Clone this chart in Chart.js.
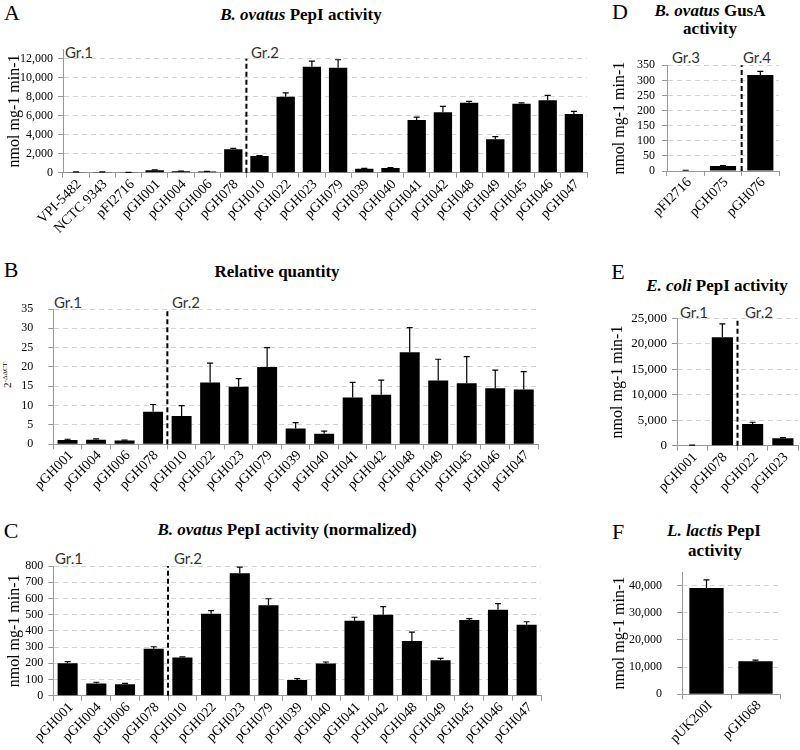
<!DOCTYPE html>
<html>
<head>
<meta charset="utf-8">
<script src="https://cdn.jsdelivr.net/npm/chart.js@4.4.0/dist/chart.umd.min.js"></script>
<style>
body { margin: 0; width: 800px; height: 750px; position: relative; overflow: hidden; background: #fff; font-family: 'Liberation Serif', 'Times New Roman', serif; }
canvas { position: absolute; }
.t { position: absolute; white-space: nowrap; color: #000; transform: translate(-50%, -50%); }
.letter { font-size: 22px; }
.title { font-size: 17px; font-weight: bold; }
.gr { position: absolute; white-space: nowrap; transform: translateY(-50%); font-family: Lato, 'Open Sans', sans-serif; font-size: 15px; color: #333; }
.ylab { position: absolute; white-space: nowrap; transform: translate(-50%, -50%) rotate(-90deg); font-size: 11px; }
.ylab sup { font-size: 7px; }
.xl { position: absolute; width: 0; height: 0; transform: rotate(-45deg); transform-origin: 0 0; }
.xl span { position: absolute; right: 0; top: 0; transform: translateY(-50%); white-space: nowrap; font-size: 14px; line-height: 1; color: #000; }
</style>
</head>
<body>
<!-- panel letters and titles -->
<div class="t letter" style="left:12px;top:13px">A</div>
<div class="t title" style="left:301px;top:15px"><i>B. ovatus</i> PepI activity</div>
<div class="t letter" style="left:11px;top:270px">B</div>
<div class="t title" style="left:277px;top:272px">Relative quantity</div>
<div class="t letter" style="left:11px;top:531px">C</div>
<div class="t title" style="left:287px;top:530px"><i>B. ovatus</i> PepI activity (normalized)</div>
<div class="t letter" style="left:620px;top:12px">D</div>
<div class="t title" style="left:710px;top:11px"><i>B. ovatus</i> GusA</div>
<div class="t title" style="left:710px;top:29px">activity</div>
<div class="t letter" style="left:618px;top:272px">E</div>
<div class="t title" style="left:717px;top:286px"><i>E. coli</i> PepI activity</div>
<div class="t letter" style="left:618px;top:532px">F</div>
<div class="t title" style="left:714px;top:531px"><i>L. lactis</i> PepI</div>
<div class="t title" style="left:715px;top:551px">activity</div>

<!-- group labels -->
<div class="gr" style="left:65px;top:52px">Gr.1</div>
<div class="gr" style="left:251px;top:52px">Gr.2</div>
<div class="gr" style="left:54px;top:302px">Gr.1</div>
<div class="gr" style="left:172px;top:302px">Gr.2</div>
<div class="gr" style="left:55px;top:558px">Gr.1</div>
<div class="gr" style="left:174px;top:558px">Gr.2</div>
<div class="gr" style="left:672px;top:57px">Gr.3</div>
<div class="gr" style="left:743px;top:57px">Gr.4</div>
<div class="gr" style="left:680px;top:312px">Gr.1</div>
<div class="gr" style="left:745px;top:312px">Gr.2</div>

<div class="ylab" style="left:7px;top:375px">2<sup>-ΔΔCT</sup></div>

<canvas id="chartA"></canvas>
<canvas id="chartB"></canvas>
<canvas id="chartC"></canvas>
<canvas id="chartD"></canvas>
<canvas id="chartE"></canvas>
<canvas id="chartF"></canvas>

<script>
// ---- data ----
const aLabels = ['VPI-5482', 'NCTC 9343', 'pFI2716', 'pGH001', 'pGH004', 'pGH006', 'pGH078', 'pGH010', 'pGH022', 'pGH023',
                 'pGH079', 'pGH039', 'pGH040', 'pGH041', 'pGH042', 'pGH048', 'pGH049', 'pGH045', 'pGH046', 'pGH047'];
const aValues = [80, 70, 20, 250, 150, 120, 2460, 1760, 8000, 11160, 11050, 420, 500, 5550, 6360, 7370, 3520, 7260, 7620, 6180];
const aErrors = [15, 10, 5, 40, 20, 20, 100, 50, 400, 590, 840, 40, 50, 300, 630, 140, 280, 100, 520, 280];

const bcLabels = ['pGH001', 'pGH004', 'pGH006', 'pGH078', 'pGH010', 'pGH022', 'pGH023', 'pGH079', 'pGH039', 'pGH040',
                  'pGH041', 'pGH042', 'pGH048', 'pGH049', 'pGH045', 'pGH046', 'pGH047'];
const bValues = [1.1, 1.2, 1.0, 8.4, 7.3, 16, 14.9, 20, 4.1, 2.7, 12.1, 12.8, 23.8, 16.5, 15.8, 14.5, 14.2];
const bErrors = [0.2, 0.2, 0.1, 1.9, 2.7, 5, 2.1, 5, 1.5, 0.7, 3.9, 3.8, 6.4, 5.5, 6.9, 4.7, 4.6];

const cValues = [200, 75, 70, 290, 235, 505, 755, 558, 97, 198, 462, 500, 337, 218, 467, 530, 438];
const cErrors = [10, 8, 6, 12, 4, 20, 38, 40, 8, 10, 22, 50, 55, 12, 8, 38, 18];

const dLabels = ['pFI2716', 'pGH075', 'pGH076'];
const dValues = [2, 16.5, 318];
const dErrors = [0.5, 1, 12];

const eLabels = ['pGH001', 'pGH078', 'pGH022', 'pGH023'];
const eValues = [100, 21300, 4250, 1450];
const eErrors = [20, 2600, 350, 120];

const fLabels = ['pUK200I', 'pGH068'];
const fValues = [39100, 12200];
const fErrors = [3000, 400];

// y tick values and axis maxima
const aTicks = [0, 2000, 4000, 6000, 8000, 10000, 12000], aMax = 13000;
const bTicks = [0, 5, 10, 15, 20, 25, 30, 35], bMax = 35;
const cTicks = [0, 100, 200, 300, 400, 500, 600, 700, 800], cMax = 800;
const dTicks = [0, 50, 100, 150, 200, 250, 300, 350], dMax = 350;
const eTicks = [0, 5000, 10000, 15000, 20000, 25000], eMax = 25000;
const fTicks = [0, 10000, 20000, 30000, 40000], fMax = 45000;

const unitTitle = 'nmol mg-1 min-1';
const serif = "'Liberation Serif', 'Times New Roman', serif";

Chart.defaults.font.family = serif;
Chart.defaults.color = '#000';

// upward error whiskers with a cap
const errorBars = {
    id: 'errorBars',
    afterDatasetsDraw(chart) {
        const {ctx, scales: {y}} = chart;
        const ds = chart.data.datasets[0];
        const meta = chart.getDatasetMeta(0);
        ctx.save();
        ctx.strokeStyle = '#000';
        ctx.lineWidth = 1.2;
        meta.data.forEach((bar, i) => {
            const top = y.getPixelForValue(ds.data[i] + ds.errors[i]);
            ctx.beginPath();
            ctx.moveTo(bar.x, bar.y);
            ctx.lineTo(bar.x, top);
            ctx.moveTo(bar.x - 3, top);
            ctx.lineTo(bar.x + 3, top);
            ctx.stroke();
        });
        ctx.restore();
    }
};

// dashed line separating groups
const groupDivider = {
    id: 'groupDivider',
    afterDatasetsDraw(chart, args, opts) {
        if (opts.after == null) return;
        const {ctx, scales: {x, y}} = chart;
        const px = (x.getPixelForTick(opts.after) + x.getPixelForTick(opts.after + 1)) / 2;
        ctx.save();
        ctx.setLineDash([5, 3]);
        ctx.lineWidth = 2;
        ctx.strokeStyle = '#000';
        ctx.beginPath();
        ctx.moveTo(px, y.getPixelForValue(0));
        ctx.lineTo(px, y.getPixelForValue(opts.top));
        ctx.stroke();
        ctx.restore();
    }
};

// category labels as slanted text, each ending under its tick
function addSlantLabels(chart, box) {
    const x = chart.scales.x;
    chart.data.labels.forEach((lab, i) => {
        const wrap = document.createElement('div');
        wrap.className = 'xl';
        wrap.style.left = (box.x + x.getPixelForTick(i) + 3) + 'px';
        wrap.style.top = (box.y + x.top + 9) + 'px';
        const span = document.createElement('span');
        span.textContent = lab;
        wrap.appendChild(span);
        document.body.appendChild(wrap);
    });
}

function makeChart(id, box, area, labels, values, errors, tickVals, max, yOpts, divider) {
    const cv = document.getElementById(id);
    cv.width = box.w;
    cv.height = box.h;
    cv.style.left = box.x + 'px';
    cv.style.top = box.y + 'px';
    cv.style.width = box.w + 'px';
    cv.style.height = box.h + 'px';

    const chart = new Chart(cv, {
        type: 'bar',
        data: {
            labels: labels,
            datasets: [{
                data: values,
                errors: errors,
                backgroundColor: '#000',
                borderWidth: 0,
                barPercentage: 0.7,
                categoryPercentage: 1
            }]
        },
        options: {
            responsive: false,
            animation: false,
            layout: { padding: { top: area.top - box.y, right: box.x + box.w - area.right, left: 0, bottom: 0 } },
            plugins: {
                legend: { display: false },
                tooltip: { enabled: false },
                groupDivider: divider || {}
            },
            scales: {
                x: {
                    grid: { drawOnChartArea: false, tickLength: 5, tickColor: '#999', offset: true },
                    border: { color: '#999' },
                    ticks: { display: false },
                    afterFit: s => {
                        s.height = box.y + box.h - area.bottom;
                        s.paddingLeft = 0;
                        s.paddingRight = 0;
                    }
                },
                y: {
                    min: 0,
                    max: max,
                    grid: { color: '#d4d4d4', tickLength: 5, tickColor: '#999', tickBorderDash: [] },
                    border: { color: '#999', dash: [5, 4] },
                    ticks: { autoSkip: false, padding: yOpts.pad, font: { size: yOpts.size || 12 } },
                    afterBuildTicks: s => { s.ticks = tickVals.map(v => ({ value: v })); },
                    title: yOpts.title
                        ? { display: true, text: yOpts.title, font: { family: serif, size: 16 }, padding: { top: yOpts.tpad, bottom: 0 } }
                        : { display: false },
                    afterFit: s => {
                        s.width = area.left - box.x;
                        s.paddingTop = 0;
                        s.paddingBottom = 0;
                    }
                }
            }
        },
        plugins: [errorBars, groupDivider]
    });
    addSlantLabels(chart, box);
    return chart;
}

makeChart('chartA', {x: 0, y: 40, w: 595, h: 200}, {left: 63, top: 49.2, right: 587, bottom: 172.7},
    aLabels, aValues, aErrors, aTicks, aMax, {pad: 5, title: unitTitle, tpad: 5}, {after: 6, top: 12000});

makeChart('chartB', {x: 0, y: 295, w: 545, h: 210}, {left: 53.3, top: 309, right: 538, bottom: 444.3},
    bcLabels, bValues, bErrors, bTicks, bMax, {pad: 15}, {after: 3, top: 35});

makeChart('chartC', {x: 0, y: 550, w: 548, h: 200}, {left: 53.3, top: 566, right: 541, bottom: 695.7},
    bcLabels, cValues, cErrors, cTicks, cMax, {pad: 5, title: unitTitle, tpad: 5}, {after: 3, top: 800});

makeChart('chartD', {x: 600, y: 50, w: 190, h: 190}, {left: 667, top: 65.3, right: 779, bottom: 171},
    dLabels, dValues, dErrors, dTicks, dMax, {pad: 7, title: unitTitle, tpad: 10}, {after: 1, top: 350});

makeChart('chartE', {x: 600, y: 300, w: 200, h: 200}, {left: 677, top: 318.3, right: 798, bottom: 445.7},
    eLabels, eValues, eErrors, eTicks, eMax, {pad: 5, size: 13, title: unitTitle, tpad: 8}, {after: 1, top: 25000});

makeChart('chartF', {x: 600, y: 560, w: 195, h: 190}, {left: 682, top: 572, right: 780, bottom: 694.3},
    fLabels, fValues, fErrors, fTicks, fMax, {pad: 15, title: unitTitle, tpad: 10}, null);
</script>
</body>
</html>
